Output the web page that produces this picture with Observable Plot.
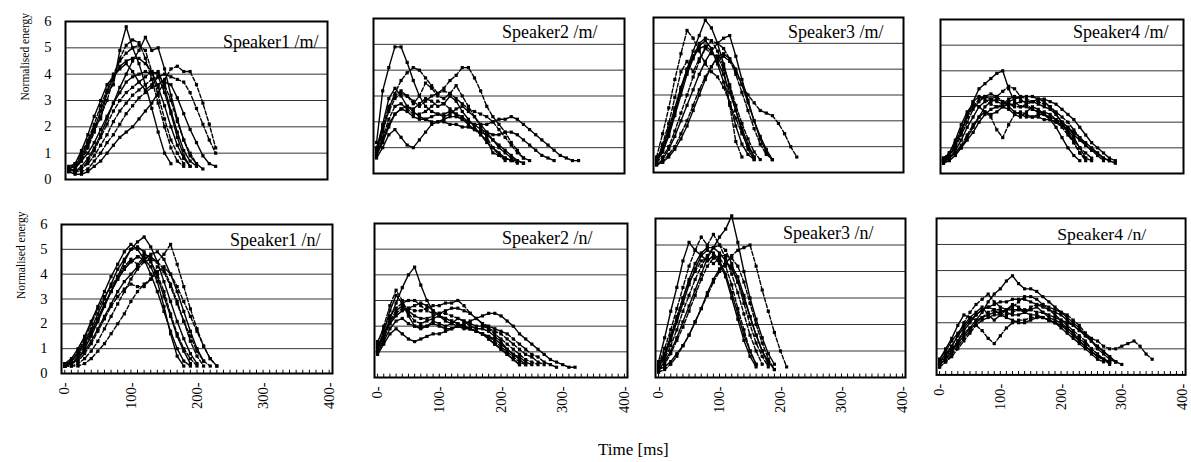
<!DOCTYPE html>
<html><head><meta charset="utf-8">
<script src="https://cdn.jsdelivr.net/npm/d3@7"></script>
<script src="https://cdn.jsdelivr.net/npm/@observablehq/plot@0.6"></script>
<style>
body{margin:0;background:#fff;}
#chart{position:relative;width:1191px;height:462px;overflow:hidden;font-family:"Liberation Serif","Times New Roman",serif;background:#fff;}
.panel{position:absolute;}
.panel svg{overflow:visible;font-family:"Liberation Serif","Times New Roman",serif !important;}
.panel svg text{font-family:"Liberation Serif","Times New Roman",serif !important;}
#xtitle{position:absolute;left:598px;top:441px;font-size:17px;line-height:17px;white-space:nowrap;}
</style></head><body>
<div id="chart"><div id="xtitle">Time [ms]</div></div>
<script>
// ---------- data (values sampled every 10 ms from 0 ms) ----------
const timeStepMs = 10;
const yTicks = [0, 1, 2, 3, 4, 5, 6];
const gridValues = [1, 2, 3, 4, 5];
const xTickLabels = [0, 100, 200, 300, 400];
const minorTicks = [0,10,20,30,40,50,60,70,80,90,100,110,120,130,140,150,160,170,180,190,200,210,220,230,240,250,260,270,280,290,300,310,320,330,340,350,360,370,380,390,400];
const panelTitles = ["Speaker1 /m/", "Speaker2 /m/", "Speaker3 /m/", "Speaker4 /m/", "Speaker1 /n/", "Speaker2 /n/", "Speaker3 /n/", "Speaker4 /n/"];
const yLabel = "Normalised energy";

const speaker1_m = [
  [0.4,0.5,0.9,1.4,2.0,2.3,3.3,3.6,4.9,5.8,5.0,4.4,3.6,2.7,1.8,1.0,0.6],
  [0.3,0.4,0.7,1.2,1.8,2.4,3.0,3.8,4.6,5.1,5.3,5.2,4.6,3.8,2.9,2.0,1.2,0.7,0.5],
  [0.4,0.3,0.5,0.8,1.2,1.7,2.3,2.9,3.5,4.0,4.5,4.9,5.4,4.9,5.0,4.2,3.2,2.3,1.5,0.9,0.6,0.4],
  [0.4,0.3,0.3,0.4,0.7,1.0,1.4,1.7,2.1,2.5,2.8,3.1,3.3,3.5,3.6,3.8,4.2,4.3,4.1,4.1,3.6,2.9,2.1,1.2],
  [0.3,0.2,0.2,0.3,0.5,0.7,1.0,1.3,1.6,1.8,2.0,2.3,2.6,2.9,3.3,3.7,3.6,3.1,2.5,1.9,1.4,0.9,0.6,0.5],
  [0.4,0.3,0.4,0.7,1.1,1.6,2.1,2.6,3.0,3.3,3.5,3.7,3.9,4.1,4.0,3.6,3.0,2.2,1.5,1.0,0.6],
  [0.3,0.4,0.8,1.3,1.9,2.6,3.3,3.9,4.3,4.5,4.6,4.6,4.4,4.1,3.5,2.8,2.0,1.3,0.8,0.5],
  [0.4,0.3,0.4,0.6,0.9,1.3,1.7,2.2,2.6,2.9,3.2,3.4,3.6,3.8,3.9,4.0,3.9,3.8,3.7,3.3,2.7,2.1,1.5,1.0],
  [0.4,0.5,0.7,1.0,1.4,1.9,2.4,2.9,3.3,3.7,3.9,4.0,4.1,4.0,4.1,3.5,2.6,1.8,1.1,0.7,0.5],
  [0.5,0.6,1.0,1.5,2.1,2.8,3.4,4.0,4.5,4.8,5.0,5.1,4.9,4.1,3.2,2.3,1.5,1.0,0.6],
  [0.4,0.6,1.1,1.7,2.4,3.0,3.6,3.9,4.2,4.4,4.1,3.7,3.4,3.6,3.9,3.3,2.5,1.6,0.9,0.5]
];
const speaker2_m = [
  [1.2,3.2,4.1,4.9,4.9,4.3,3.6,3.0,2.6,2.4,2.3,2.2,2.3,2.5,2.6,2.4,2.2,1.9,1.6,1.3,1.0,0.8,0.6,0.5],
  [0.8,1.6,2.5,3.1,3.6,3.9,4.1,4.0,3.7,3.4,3.1,3.3,3.6,3.8,4.1,4.1,3.7,3.2,2.6,2.2,1.9,1.6,1.2,0.9,0.6],
  [0.7,1.2,1.8,2.3,2.5,2.4,2.2,2.1,2.1,2.2,2.3,2.3,2.4,2.3,2.2,2.0,1.9,1.9,1.9,2.0,2.1,2.1,2.2,2.1,1.9,1.7,1.5,1.3,1.1,0.9,0.7,0.6,0.5,0.5],
  [0.9,1.7,2.4,2.9,3.1,3.0,2.8,2.6,2.8,3.0,3.1,3.2,3.1,2.9,2.7,2.5,2.4,2.3,2.2,2.0,1.7,1.4,1.1,0.8,0.6,0.5],
  [0.6,1.0,1.5,1.7,1.4,1.1,1.0,1.3,1.6,1.9,2.0,2.0,1.9,1.9,1.8,1.8,1.7,1.6,1.5,1.3,1.1,0.9,0.7,0.5,0.4],
  [1.0,1.8,2.6,3.0,3.2,3.0,2.7,3.0,3.5,3.3,3.0,2.9,3.1,3.4,3.0,2.6,2.2,1.8,1.4,1.0,0.7,0.5],
  [0.8,1.3,1.9,2.3,2.5,2.6,2.4,2.2,2.1,2.0,2.0,2.1,2.2,2.2,2.1,2.0,1.9,1.7,1.6,1.5,1.5,1.6,1.6,1.5,1.3,1.1,0.9,0.7,0.6,0.5],
  [0.7,1.4,2.1,2.6,2.7,2.5,2.3,2.3,2.4,2.6,2.8,2.7,2.5,2.3,2.1,1.9,1.7,1.5,1.2,1.0,0.8,0.6,0.5,0.4],
  [0.9,1.9,2.9,3.3,3.0,2.6,2.5,2.7,2.9,2.8,2.6,2.7,3.0,2.8,2.4,2.1,1.8,1.5,1.3,0.8,0.7,0.6,0.5,0.5,0.4]
];
const speaker3_m = [
  [0.4,0.8,1.5,2.3,3.2,4.0,4.7,5.3,5.9,5.6,5.0,4.2,3.3,2.4,1.6,0.9,0.5],
  [0.6,1.5,2.5,3.6,4.6,5.5,5.2,4.7,4.2,3.9,3.7,3.3,2.7,2.1,1.5,1.0,0.6],
  [0.3,0.5,0.9,1.4,2.0,2.6,3.2,3.8,4.3,4.7,5.0,5.2,5.3,4.5,3.6,2.8,2.0,1.3,0.8,0.5],
  [0.3,0.4,0.7,1.0,1.5,2.0,2.6,3.2,3.7,4.1,4.4,4.5,4.3,3.9,3.4,3.0,2.7,2.4,2.3,2.2,1.9,1.5,1.0,0.6],
  [0.5,1.0,1.7,2.5,3.3,4.0,4.5,4.8,4.9,4.7,4.3,3.8,3.1,2.4,1.7,1.1,0.6],
  [0.4,0.6,1.0,1.6,2.3,3.0,3.7,4.3,4.8,5.1,5.0,4.8,4.4,3.8,3.1,2.4,1.7,1.1,0.7,0.5],
  [0.3,0.4,0.6,0.9,1.3,1.8,2.4,3.0,3.6,4.1,4.5,4.6,4.4,4.0,3.4,2.7,2.0,1.4,0.9,0.5],
  [0.5,0.9,1.6,2.4,3.2,3.9,4.5,5.0,5.2,5.1,4.7,4.1,3.4,2.6,1.9,1.3,0.8,0.5],
  [0.5,0.8,1.4,2.2,3.0,3.8,4.4,4.9,5.1,4.8,4.2,3.5,2.7,1.8,1.1,0.7,0.5],
  [0.4,1.1,1.9,2.9,3.9,4.3,3.9,4.4,4.8,4.6,4.5,4.0,2.6,1.2,0.6]
];
const speaker4_m = [
  [0.5,0.7,1.1,1.6,2.2,2.8,3.3,3.5,3.7,3.9,4.0,3.3,2.8,2.6,2.6,2.5,2.4,2.3,2.1,1.8,1.4,1.0,0.7,0.5],
  [0.6,0.8,1.2,1.7,2.2,2.6,2.9,3.0,2.9,3.0,3.2,3.4,3.3,3.0,2.9,2.8,2.8,2.7,2.6,2.4,2.2,2.0,1.7,1.4,1.1,0.9,0.7,0.5],
  [0.4,0.6,0.9,1.3,1.8,2.2,2.6,2.8,2.9,2.8,2.7,2.8,2.9,3.0,3.0,3.0,2.9,2.9,2.8,2.7,2.5,2.3,2.1,1.8,1.5,1.2,1.0,0.8,0.6,0.5],
  [0.5,0.6,0.8,1.1,1.5,1.9,2.2,2.4,2.2,1.7,1.4,1.9,2.3,2.4,2.3,2.2,2.2,2.1,2.1,2.0,1.8,1.5,1.2,0.8,0.5],
  [0.5,0.6,0.8,1.0,1.3,1.6,2.0,2.3,2.5,2.6,2.6,2.7,2.7,2.8,2.8,2.8,2.7,2.6,2.5,2.3,2.0,1.8,1.5,1.3,1.1,0.9,0.8,0.6,0.5],
  [0.6,0.8,1.2,1.7,2.3,2.8,3.0,2.9,2.7,2.6,2.7,2.9,3.0,2.9,2.7,2.5,2.4,2.4,2.3,2.1,1.9,1.6,1.3,1.0,0.8,0.6],
  [0.4,0.5,0.7,1.0,1.4,1.8,2.2,2.6,2.8,2.9,2.8,2.6,2.4,2.3,2.2,2.2,2.3,2.3,2.2,2.1,2.0,1.8,1.6,1.4,1.2,1.0,0.8,0.6,0.5,0.4],
  [0.5,0.7,1.0,1.5,2.0,2.5,2.8,3.0,3.1,3.0,2.8,2.7,2.6,2.6,2.7,2.8,2.9,2.8,2.6,2.3,2.0,1.6,1.2,0.8,0.6,0.5],
  [0.5,0.8,1.3,1.9,2.4,2.7,2.6,2.4,2.3,2.4,2.6,2.5,2.3,2.2,2.4,2.6,2.5,2.3,2.1,2.0,1.9,1.7,1.4,1.0,0.6]
];
const speaker1_n = [
  [0.3,0.4,0.6,1.0,1.5,2.1,2.7,3.3,3.9,4.5,5.0,5.3,5.5,5.1,4.5,3.7,2.9,2.1,1.4,0.8,0.4],
  [0.3,0.3,0.4,0.6,0.9,1.3,1.8,2.3,2.8,3.3,3.8,4.2,4.5,4.6,4.5,4.8,5.2,4.4,3.5,2.6,1.8,1.1,0.6,0.3],
  [0.4,0.6,1.0,1.5,2.1,2.7,3.3,3.9,4.4,4.9,5.2,5.0,4.6,4.0,3.3,2.5,1.7,1.0,0.5,0.3],
  [0.3,0.3,0.3,0.4,0.6,0.9,1.2,1.6,2.0,2.4,2.9,3.3,3.6,3.8,4.1,4.3,4.0,3.5,2.9,2.3,1.7,1.1,0.6,0.3],
  [0.3,0.5,0.8,1.2,1.7,2.2,2.8,3.3,3.8,4.2,4.5,4.7,4.6,4.3,3.7,2.7,1.6,0.7,0.3],
  [0.3,0.4,0.7,1.1,1.6,2.2,2.8,3.3,3.8,4.2,4.5,4.7,4.8,4.7,4.5,4.2,3.6,2.9,2.1,1.3,0.7,0.3],
  [0.3,0.4,0.6,0.9,1.3,1.8,2.3,2.8,3.3,3.7,4.0,4.3,4.6,4.8,4.9,4.6,4.0,3.3,2.5,1.7,1.0,0.5],
  [0.3,0.4,0.5,0.8,1.2,1.7,2.2,2.7,3.1,3.4,3.6,3.5,3.5,3.8,4.3,4.1,3.5,2.8,2.1,1.5,0.9,0.5,0.3],
  [0.4,0.5,0.8,1.3,1.8,2.4,3.0,3.6,4.2,4.6,5.0,5.1,4.9,4.5,3.9,3.1,2.3,1.5,0.9,0.4],
  [0.3,0.5,0.9,1.4,2.0,2.6,3.1,3.5,3.9,4.3,4.6,4.4,4.7,4.5,4.0,3.3,2.4,1.6,1.0,0.6,0.3]
];
const speaker2_n = [
  [1.1,1.6,2.3,2.9,3.5,4.0,4.3,3.6,3.0,2.6,2.4,2.3,2.2,2.1,2.0,1.9,1.8,1.7,1.5,1.3,1.1,0.9,0.7,0.5],
  [1.2,1.7,2.2,2.6,2.8,2.7,2.6,2.6,2.7,2.8,2.8,2.9,2.9,3.0,2.8,2.5,2.3,2.1,2.0,1.9,1.8,1.7,1.5,1.3,1.1,0.9,0.8,0.6,0.5,0.4],
  [1.0,1.4,1.9,2.2,2.3,2.1,2.0,2.0,2.0,2.1,2.0,1.9,1.9,2.0,2.1,2.2,2.3,2.4,2.5,2.5,2.4,2.2,2.0,1.7,1.5,1.3,1.1,0.9,0.7,0.6,0.5,0.4,0.4],
  [1.3,2.0,2.8,3.4,3.0,2.5,2.2,2.1,2.2,2.3,2.4,2.3,2.2,2.1,2.0,1.9,1.8,1.7,1.6,1.4,1.2,1.0,0.8,0.6,0.5],
  [0.9,1.3,1.7,1.9,1.7,1.5,1.4,1.5,1.6,1.7,1.7,1.8,1.9,2.0,2.0,1.9,1.8,1.7,1.6,1.5,1.3,1.1,0.9,0.8,0.6,0.5],
  [1.0,1.5,2.1,2.5,2.7,2.6,2.4,2.3,2.3,2.4,2.5,2.5,2.4,2.3,2.2,2.1,2.0,2.0,1.9,1.8,1.7,1.5,1.3,1.1,0.9,0.8,0.6,0.5],
  [1.2,1.7,2.1,2.4,2.6,2.7,2.8,2.9,2.8,2.6,2.4,2.2,2.1,2.0,1.9,1.9,1.8,1.7,1.5,1.3,1.1,0.9,0.7,0.5],
  [1.4,1.9,2.4,2.7,2.9,3.0,3.0,2.8,2.6,2.5,2.5,2.6,2.7,2.7,2.6,2.5,2.3,2.1,1.9,1.7,1.5,1.3,1.1,0.9,0.7,0.6,0.5],
  [1.1,1.8,2.6,3.2,2.9,2.4,2.0,1.9,2.0,2.2,2.1,2.0,2.1,2.3,2.2,2.0,1.9,1.9,1.8,1.6,1.4,1.1,0.9,0.7,0.5]
];
const speaker3_n = [
  [0.3,0.6,1.0,1.5,2.1,2.7,3.3,3.9,4.5,4.9,5.3,5.6,6.1,5.1,4.0,3.0,2.2,1.5,0.9,0.5],
  [0.5,1.1,1.8,2.6,3.4,4.2,4.8,5.3,5.0,5.4,5.0,4.5,3.9,3.2,2.4,1.6,1.0,0.5],
  [0.6,1.5,2.5,3.4,4.4,5.1,4.8,4.6,4.4,4.6,4.3,3.8,3.0,2.2,1.4,0.8,0.4],
  [0.2,0.3,0.5,0.8,1.2,1.6,2.1,2.6,3.1,3.6,4.0,4.3,4.6,4.8,4.9,5.0,4.2,3.3,2.5,1.7,1.0,0.4],
  [0.4,0.8,1.4,2.1,2.8,3.5,4.1,4.6,4.8,4.7,4.4,3.9,3.2,2.4,1.6,1.0,0.5],
  [0.3,0.5,0.9,1.4,1.9,2.5,3.1,3.7,4.2,4.5,4.6,4.6,4.5,4.2,3.6,2.8,2.0,1.3,0.7,0.3],
  [0.3,0.4,0.6,0.9,1.2,1.6,2.1,2.6,3.2,3.7,4.1,4.3,4.2,3.8,3.1,2.3,1.6,1.0,0.5],
  [0.4,0.7,1.2,1.8,2.5,3.1,3.7,4.2,4.6,4.9,5.0,4.8,4.3,3.6,2.8,2.0,1.3,0.8,0.4],
  [0.5,0.9,1.5,2.2,3.0,3.7,4.3,4.7,4.9,4.9,4.7,4.4,4.1,3.6,3.0,2.3,1.6,1.0,0.6,0.3],
  [0.4,0.9,1.6,2.3,3.0,3.6,4.0,4.4,4.5,4.3,4.5,4.2,3.5,2.6,1.8,1.0,0.5]
];
const speaker4_n = [
  [0.4,0.6,0.9,1.2,1.5,1.8,2.1,2.4,2.8,3.1,3.3,3.6,3.8,3.5,3.3,3.3,3.2,3.0,2.8,2.6,2.4,2.2,2.0,1.8,1.5,1.3,1.0,0.8,0.6,0.5],
  [0.3,0.5,0.7,1.0,1.3,1.6,1.9,2.1,2.2,2.3,2.3,2.3,2.4,2.5,2.5,2.5,2.4,2.4,2.3,2.2,2.1,2.0,1.9,1.7,1.6,1.4,1.3,1.1,1.0,1.0,1.1,1.2,1.3,1.1,0.8,0.6],
  [0.6,1.0,1.4,1.9,2.3,2.2,2.1,2.2,2.3,2.4,2.4,2.5,2.5,2.5,2.4,2.3,2.3,2.2,2.1,2.0,1.8,1.6,1.4,1.2,1.0,0.8,0.6,0.5],
  [0.5,0.7,1.0,1.3,1.6,1.8,1.9,1.7,1.4,1.2,1.5,1.8,2.0,2.1,2.1,2.2,2.2,2.2,2.1,2.0,1.9,1.8,1.6,1.4,1.2,1.0,0.8,0.6,0.5],
  [0.4,0.6,0.9,1.3,1.7,2.0,2.3,2.5,2.6,2.7,2.8,2.8,2.9,2.9,2.9,2.8,2.7,2.6,2.5,2.4,2.3,2.1,1.9,1.7,1.5,1.3,1.1,0.9,0.7,0.5,0.4],
  [0.3,0.5,0.8,1.1,1.4,1.7,2.0,2.2,2.4,2.5,2.5,2.4,2.3,2.3,2.4,2.6,2.7,2.7,2.6,2.5,2.4,2.3,2.1,1.9,1.6,1.3,1.1,0.9,0.7,0.5],
  [0.5,0.8,1.1,1.5,1.8,2.1,2.3,2.5,2.6,2.5,2.3,2.2,2.1,2.0,2.0,2.1,2.2,2.2,2.1,2.0,1.9,1.7,1.5,1.3,1.1,0.9,0.7,0.6,0.5],
  [0.4,0.7,1.1,1.5,2.0,2.4,2.7,2.9,3.1,2.8,2.6,2.5,2.6,2.8,3.0,3.0,2.9,2.7,2.5,2.3,2.1,1.9,1.7,1.5,1.3,1.0,0.8,0.6,0.5],
  [0.6,0.9,1.3,1.6,1.9,2.2,2.4,2.6,2.3,2.1,2.3,2.5,2.7,2.6,2.4,2.5,2.6,2.4,2.2,2.1,2.0,1.8,1.6,1.3,1.1,0.9,0.7,0.6,0.4]
];

// ---------- layout ----------
const panelData = [speaker1_m, speaker2_m, speaker3_m, speaker4_m, speaker1_n, speaker2_n, speaker3_n, speaker4_n];
const layout = [
  {box:[65,21,327,179],  tdx:-9,  tdy:26, yAxis:true,  xAxis:false},
  {box:[373,18,624,173], tdx:-27, tdy:19, yAxis:false, xAxis:false},
  {box:[653,17,903,172], tdx:-20, tdy:20, yAxis:false, xAxis:false},
  {box:[940,19,1183,173],tdx:-15, tdy:18, yAxis:false, xAxis:false},
  {box:[61,224,332,373], tdx:-12, tdy:21, yAxis:true,  xAxis:true},
  {box:[374,223,627,377],tdx:-35, tdy:20, yAxis:false, xAxis:true},
  {box:[655,218,905,377],tdx:-32, tdy:20, yAxis:false, xAxis:true},
  {box:[937,218,1190,377],tdx:-40,tdy:22, yAxis:false, xAxis:true}
];

const chart = document.getElementById("chart");
const ml = 60, mr = 6, mt = 6, mb = 60;
const serif = '"Liberation Serif", "Times New Roman", serif';

panelData.forEach((tokens, p) => {
  const L = layout[p];
  const [x0, y0, x1, y1] = L.box;
  const w = x1 - x0, h = y1 - y0;
  const rows = tokens.flatMap((vals, k) => vals.map((v, i) => ({t: i * timeStepMs, v, k})));
  const solid = rows.filter(d => d.k % 2 === 0);
  const dashed = rows.filter(d => d.k % 2 === 1);
  const marks = [
    Plot.ruleY(gridValues, {stroke: "#333", strokeWidth: 1}),
    Plot.line(solid, {x: "t", y: "v", z: "k", stroke: "black", strokeWidth: 1.4}),
    Plot.line(dashed, {x: "t", y: "v", z: "k", stroke: "black", strokeWidth: 1.4, strokeDasharray: "4,2"}),
    Plot.dot(rows, {x: "t", y: "v", symbol: "square", r: 1.8, fill: "black", stroke: null}),
    Plot.frame({stroke: "black", strokeWidth: 2}),
    Plot.text([panelTitles[p]], {frameAnchor: "top-right", textAnchor: "end", lineAnchor: "bottom", dx: L.tdx, dy: L.tdy, fontSize: 18, fill: "black", fontFamily: serif})
  ];
  if (L.xAxis) {
    marks.push(Plot.ruleX(minorTicks, {x: d => d, y1: 0, y2: 0.13, stroke: "black", strokeWidth: 1}));
  }
  if (L.yAxis) {
    marks.push(Plot.text([yLabel], {frameAnchor: "left", rotate: -90, dx: -40, fontSize: 11.5, fill: "black", fontFamily: serif}));
  }
  const svg = Plot.plot({
    width: w + ml + mr,
    height: h + mt + mb,
    marginLeft: ml, marginRight: mr, marginTop: mt, marginBottom: mb,
    style: {fontFamily: serif, fontSize: "14.5px", background: "transparent", color: "black"},
    x: {domain: [-5, 405], ticks: xTickLabels, tickFormat: d => d + "-", tickRotate: -90, tickSize: 0, tickPadding: 9, label: null, axis: L.xAxis ? "bottom" : null},
    y: {domain: [0, 6], ticks: yTicks, tickFormat: d => String(d), tickSize: 0, tickPadding: 14, label: null, axis: L.yAxis ? "left" : null},
    marks
  });
  const div = document.createElement("div");
  div.className = "panel";
  div.style.left = (x0 - ml) + "px";
  div.style.top = (y0 - mt) + "px";
  div.appendChild(svg);
  chart.appendChild(div);
});
</script>
</body></html>
